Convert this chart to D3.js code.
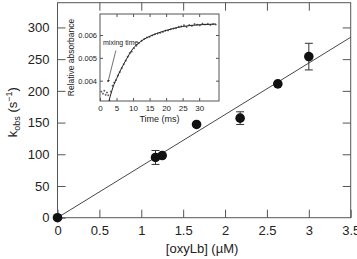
<!DOCTYPE html>
<html>
<head>
<meta charset="utf-8">
<script src="https://cdn.jsdelivr.net/npm/d3@7"></script>
<style>
  body { margin: 0; background: #fff; }
  svg { font-family: "Liberation Sans", Arial, sans-serif; }
</style>
</head>
<body>
<svg id="chart" width="357" height="259"></svg>
<script>
var svg = d3.select("#chart");

// main data: [oxyLb] (uM) vs kobs (s-1)
var conc = [0, 1.17, 1.25, 1.66, 2.18, 2.63, 3.0];
var kobs = [0, 95, 98, 147, 157, 211, 254];
var kerr = [0, 11, 0, 0, 10, 0, 21];
var fitConc = [0, 3.5];
var fitK = [0, 284.5];
var xTicks = [0, 0.5, 1, 1.5, 2, 2.5, 3, 3.5];
var yTicks = [0, 50, 100, 150, 200, 250, 300];

// inset: trace of relative absorbance vs time (ms)
var traceT = [0.4, 0.9, 1.3, 1.7, 2.1, 2.5, 2.9, 3.3, 3.8, 4.3, 4.8, 5.4, 6.0, 6.6, 7.2, 7.8, 8.4, 9.0, 9.6,
  10.3, 11.0, 11.8, 12.6, 13.4, 14.2, 15.0, 15.8, 16.6, 17.4, 18.2, 19.0, 19.8, 20.6, 21.4, 22.2, 23.0,
  23.8, 24.6, 25.4, 26.2, 27.0, 27.8, 28.6, 29.4, 30.2, 31.0, 31.8, 32.6, 33.4, 34.2, 35.0];
var traceA = [0.00352, 0.00343, 0.00356, 0.00338, 0.00348, 0.00336, 0.00312, 0.00352, 0.00378, 0.00392,
  0.00402, 0.00422, 0.00438, 0.00455, 0.00472, 0.00488, 0.00505, 0.00521, 0.00527,
  0.00542, 0.00553, 0.00565, 0.00575, 0.00583, 0.00589, 0.00592, 0.00598, 0.00603, 0.00606, 0.00609,
  0.00613, 0.00619, 0.00620, 0.00625, 0.00628, 0.00630, 0.00636, 0.00638, 0.00643, 0.00635, 0.00644,
  0.00640, 0.00648, 0.00645, 0.00642, 0.00650, 0.00646, 0.00649, 0.00644, 0.00648, 0.00646];
var fitT = [2.7, 3.5, 4.2, 5, 6, 7, 8, 9, 10, 12, 14, 15, 17, 20, 22, 25, 27, 30, 32, 35];
var fitA = [0.0031, 0.00352, 0.00382, 0.00408, 0.0044, 0.00468, 0.00494, 0.00519, 0.00541, 0.00568,
  0.00587, 0.00594, 0.00606, 0.0062, 0.00628, 0.00637, 0.00641, 0.00645, 0.00646, 0.00648];
var insetXTicks = [0, 5, 10, 15, 20, 25, 30];
var insetYTicks = [0.004, 0.005, 0.006];
// arrow for "mixing time": from [t, A] to [t, A]
var arrowFrom = [4.8, 0.00532];
var arrowTo = [2.4, 0.00394];

var axisColor = "#555";
var textColor = "#222";

// ---------- main plot ----------
var mLeft = 57.5, mRight = 350.7, mTop = 2.7, mBottom = 217.7;

var xScale = d3.scaleLinear().domain([0, 3.5]).range([mLeft, mRight]);
var yScale = d3.scaleLinear().domain([0, 339]).range([mBottom, mTop]);

var g = svg.append("g");

// frame
g.append("rect")
  .attr("x", mLeft).attr("y", mTop)
  .attr("width", mRight - mLeft).attr("height", mBottom - mTop)
  .attr("fill", "none").attr("stroke", axisColor).attr("stroke-width", 1);

// inside ticks on all sides
function styleAxis(sel) {
  sel.select(".domain").remove();
  sel.selectAll("line").attr("stroke", axisColor).attr("stroke-width", 1);
  sel.selectAll("text").attr("fill", textColor);
}

g.append("g")
  .attr("transform", "translate(0," + mBottom + ")")
  .call(d3.axisBottom(xScale).tickValues(xTicks).tickSize(-8).tickPadding(6)
    .tickFormat(d3.format("")))
  .call(styleAxis)
  .selectAll("text").attr("font-size", 13).attr("dy", "0.9em");

g.append("g")
  .attr("transform", "translate(0," + mTop + ")")
  .call(d3.axisTop(xScale).tickValues(xTicks.slice(1, -1)).tickSize(-8).tickFormat(""))
  .call(styleAxis);

g.append("g")
  .attr("transform", "translate(" + mLeft + ",0)")
  .call(d3.axisLeft(yScale).tickValues(yTicks).tickSize(-8).tickPadding(8))
  .call(styleAxis)
  .selectAll("text").attr("font-size", 13);

g.append("g")
  .attr("transform", "translate(" + mRight + ",0)")
  .call(d3.axisRight(yScale).tickValues(yTicks.slice(1)).tickSize(-8).tickFormat(""))
  .call(styleAxis);

// fit line
var fitLine = d3.line()
  .x(function (d, i) { return xScale(fitConc[i]); })
  .y(function (d, i) { return yScale(fitK[i]); });
g.append("path")
  .datum(fitConc)
  .attr("d", fitLine)
  .attr("fill", "none").attr("stroke", "#333").attr("stroke-width", 0.9);

// error bars
conc.forEach(function (c, i) {
  if (!kerr[i]) return;
  var x = xScale(c);
  var y1 = yScale(kobs[i] - kerr[i]), y2 = yScale(kobs[i] + kerr[i]);
  g.append("line").attr("x1", x).attr("x2", x).attr("y1", y1).attr("y2", y2)
    .attr("stroke", "#333").attr("stroke-width", 1);
  [y1, y2].forEach(function (y) {
    g.append("line").attr("x1", x - 4).attr("x2", x + 4).attr("y1", y).attr("y2", y)
      .attr("stroke", "#333").attr("stroke-width", 1);
  });
});

// points
g.selectAll("circle.pt")
  .data(conc)
  .enter().append("circle")
  .attr("class", "pt")
  .attr("cx", function (d) { return xScale(d); })
  .attr("cy", function (d, i) { return yScale(kobs[i]); })
  .attr("r", 4.8)
  .attr("fill", "#111");

// axis labels
svg.append("text")
  .attr("x", (mLeft + mRight) / 2 - 2).attr("y", 253)
  .attr("text-anchor", "middle").attr("font-size", 13).attr("fill", textColor)
  .text("[oxyLb] (\u00b5M)");

var yl = svg.append("text")
  .attr("transform", "translate(17," + ((mTop + mBottom) / 2 + 2) + ")rotate(-90)")
  .attr("text-anchor", "middle").attr("font-size", 13).attr("fill", textColor);
yl.append("tspan").text("k");
yl.append("tspan").attr("font-size", 9).attr("dy", 3).text("obs");
yl.append("tspan").attr("dy", -3).text(" (s");
yl.append("tspan").attr("font-size", 9).attr("dy", -5).text("\u22121");
yl.append("tspan").attr("dy", 5).text(")");

// ---------- inset ----------
var iL = 100, iR = 219, iT = 14, iB = 101;
var ix = d3.scaleLinear().domain([0, 36]).range([iL, iR]);
var iy = d3.scaleLinear().domain([0.00311, 0.00692]).range([iB, iT]);

var ig = svg.append("g");
ig.append("rect")
  .attr("x", iL).attr("y", iT).attr("width", iR - iL).attr("height", iB - iT)
  .attr("fill", "#fff").attr("stroke", axisColor).attr("stroke-width", 1);

ig.append("g")
  .attr("transform", "translate(0," + iB + ")")
  .call(d3.axisBottom(ix).tickValues(insetXTicks).tickSize(-3).tickPadding(4))
  .call(styleAxis)
  .selectAll("text").attr("font-size", 8);

ig.append("g")
  .attr("transform", "translate(0," + iT + ")")
  .call(d3.axisTop(ix).tickValues(insetXTicks.slice(1)).tickSize(-3).tickFormat(""))
  .call(styleAxis);

ig.append("g")
  .attr("transform", "translate(" + iL + ",0)")
  .call(d3.axisLeft(iy).tickValues(insetYTicks).tickSize(-3).tickPadding(3)
    .tickFormat(d3.format(".3f")))
  .call(styleAxis)
  .selectAll("text").attr("font-size", 7.5);

ig.append("g")
  .attr("transform", "translate(" + iR + ",0)")
  .call(d3.axisRight(iy).tickValues(insetYTicks).tickSize(-3).tickFormat(""))
  .call(styleAxis);

// trace points (small crosses)
var clipId = "insetClip";
svg.append("clipPath").attr("id", clipId)
  .append("rect").attr("x", iL).attr("y", iT).attr("width", iR - iL).attr("height", iB - iT);

var pts = ig.append("g").attr("clip-path", "url(#" + clipId + ")");
traceT.forEach(function (t, i) {
  var x = ix(t), y = iy(traceA[i]);
  pts.append("path")
    .attr("d", "M" + (x - 1) + "," + y + "h2M" + x + "," + (y - 1) + "v2")
    .attr("stroke", "#444").attr("stroke-width", 0.7);
});

var fitCurve = d3.line()
  .x(function (d, i) { return ix(fitT[i]); })
  .y(function (d, i) { return iy(fitA[i]); })
  .curve(d3.curveMonotoneX);
pts.append("path")
  .datum(fitT)
  .attr("d", fitCurve)
  .attr("fill", "none").attr("stroke", "#222").attr("stroke-width", 1);

// mixing time annotation
ig.append("text")
  .attr("x", iL + 3).attr("y", 45)
  .attr("font-size", 7).attr("fill", textColor)
  .text("mixing time");

svg.append("defs").append("marker")
  .attr("id", "arr").attr("viewBox", "0 0 6 6").attr("refX", 5).attr("refY", 3)
  .attr("markerWidth", 4).attr("markerHeight", 4).attr("orient", "auto")
  .append("path").attr("d", "M0,0L6,3L0,6z").attr("fill", "#333");

ig.append("line")
  .attr("x1", ix(arrowFrom[0])).attr("y1", iy(arrowFrom[1]))
  .attr("x2", ix(arrowTo[0])).attr("y2", iy(arrowTo[1]))
  .attr("stroke", "#333").attr("stroke-width", 0.7)
  .attr("marker-end", "url(#arr)");

// inset axis labels
ig.append("text")
  .attr("x", (iL + iR) / 2).attr("y", 122)
  .attr("text-anchor", "middle").attr("font-size", 9).attr("fill", textColor)
  .text("Time (ms)");

ig.append("text")
  .attr("transform", "translate(74," + ((iT + iB) / 2) + ")rotate(-90)")
  .attr("text-anchor", "middle").attr("font-size", 8.5).attr("fill", textColor)
  .text("Relative absorbance");
</script>
</body>
</html>
